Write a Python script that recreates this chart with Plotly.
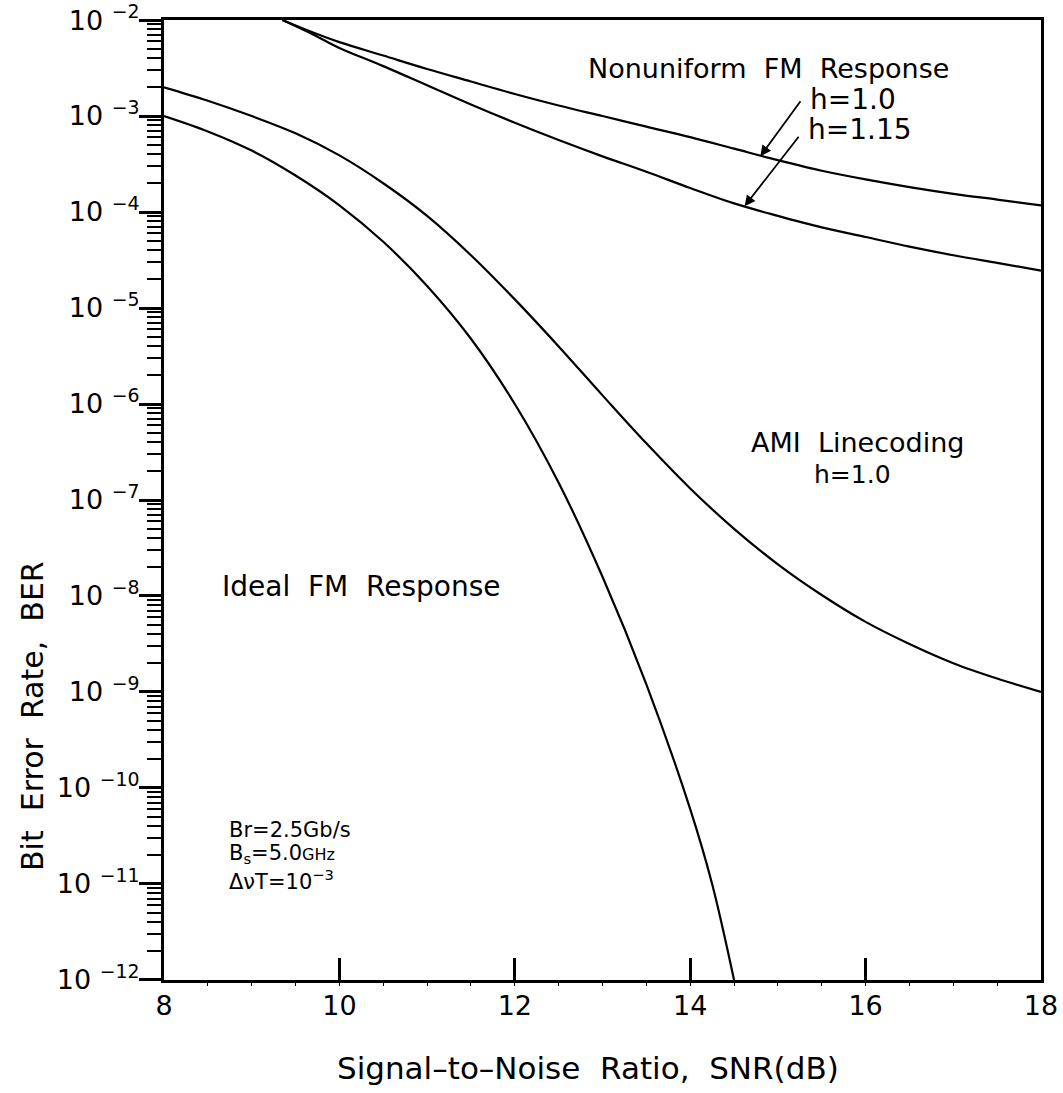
import numpy as np
import plotly.graph_objects as go

# SNR (dB) and log10(BER) for each curve
snr_ideal = [8.0, 8.5, 9.0, 9.5, 10.0, 10.5, 11.0, 11.5, 12.0, 12.5, 13.0, 13.5, 14.0, 14.25, 14.5]
logber_ideal = [-3.0, -3.16, -3.36, -3.62, -3.93, -4.31, -4.77, -5.32, -6.0, -6.82, -7.80, -8.92, -10.22, -11.0, -12.0]

snr_ami = [8.0, 8.5, 9.0, 9.5, 10.0, 10.5, 11.0, 11.5, 12.0, 12.5, 13.0, 13.5, 14.0, 14.5, 15.0, 15.5, 16.0, 16.5, 17.0, 17.5, 18.0]
logber_ami = [-2.70, -2.84, -3.00, -3.18, -3.41, -3.70, -4.04, -4.45, -4.91, -5.40, -5.91, -6.41, -6.88, -7.30, -7.67, -7.99, -8.27, -8.50, -8.70, -8.86, -9.0]

snr_h100 = [9.35, 9.7, 10.0, 10.5, 11.0, 11.5, 12.0, 12.5, 13.0, 13.5, 14.0, 14.5, 15.0, 15.5, 16.0, 16.5, 17.0, 17.5, 18.0]
logber_h100 = [-2.0, -2.13, -2.23, -2.37, -2.51, -2.64, -2.77, -2.89, -3.00, -3.11, -3.22, -3.34, -3.46, -3.57, -3.66, -3.74, -3.81, -3.87, -3.93]

snr_h115 = [9.35, 9.7, 10.0, 10.5, 11.0, 11.5, 12.0, 12.5, 13.0, 13.5, 14.0, 14.5, 15.0, 15.5, 16.0, 16.5, 17.0, 17.5, 18.0]
logber_h115 = [-2.0, -2.15, -2.29, -2.48, -2.68, -2.88, -3.07, -3.25, -3.42, -3.58, -3.75, -3.91, -4.04, -4.16, -4.26, -4.36, -4.45, -4.53, -4.61]

x_ticks = [8, 10, 12, 14, 16, 18]
y_exponents = [-2, -3, -4, -5, -6, -7, -8, -9, -10, -11, -12]

FONT = "DejaVu Sans"
fig = go.Figure()

for xs, ls in [(snr_ideal, logber_ideal), (snr_ami, logber_ami),
               (snr_h100, logber_h100), (snr_h115, logber_h115)]:
    fig.add_trace(go.Scatter(
        x=xs, y=np.power(10.0, ls), mode="lines",
        line=dict(color="black", width=2.2, shape="spline", smoothing=1.0),
        showlegend=False, hoverinfo="skip"))

minor_vals = [m * 10.0 ** k for k in range(-12, -2) for m in range(2, 10)]

fig.update_layout(
    width=1063, height=1093,
    margin=dict(l=164, r=22, t=20, b=113, autoexpand=False),
    paper_bgcolor="white", plot_bgcolor="white",
    font=dict(family=FONT, color="black", size=24),
    xaxis=dict(
        range=[8, 18], tickvals=x_ticks, ticktext=[str(v) for v in x_ticks],
        ticks="inside", ticklen=22, tickwidth=2.5, tickcolor="black",
        showline=True, linewidth=3, linecolor="black", mirror=True,
        showgrid=False, zeroline=False, automargin=False,
        tickfont=dict(family=FONT, size=27),
        minor=dict(ticks="outside", ticklen=3, tickwidth=1, dtick=0.5, tickcolor="black"),
    ),
    yaxis=dict(
        type="log", range=[-12.0005, -1.9995],
        tickvals=[10.0 ** e for e in y_exponents],
        ticktext=["10 <sup>\u2212%d</sup>" % (-e) for e in y_exponents],
        ticks="outside", ticklen=22, tickwidth=2.5, tickcolor="black",
        showline=True, linewidth=3, linecolor="black", mirror=True,
        showgrid=False, zeroline=False, automargin=False,
        tickfont=dict(family=FONT, size=27),
        ticklabelstandoff=-6,
        ticklabeloverflow="allow",
        minor=dict(ticks="outside", ticklen=14, tickwidth=2, tickvals=minor_vals, tickcolor="black"),
    ),
)

def label(x, y, text, size=24, xanchor="center"):
    fig.add_annotation(x=x, y=y, xref="x", yref="y", text=text, showarrow=False,
                       xanchor=xanchor, yanchor="middle",
                       font=dict(family=FONT, size=size, color="black"))

label(14.89, -2.50, "Nonuniform\u00a0\u00a0FM\u00a0\u00a0Response", size=27)
label(15.34, -2.83, "h=1.0", size=28, xanchor="left")
label(15.32, -3.14, "h=1.15", size=28, xanchor="left")
label(15.91, -6.40, "AMI\u00a0\u00a0Linecoding", size=27)
label(15.85, -6.73, "h=1.0", size=25)
label(10.25, -7.90, "Ideal\u00a0\u00a0FM\u00a0\u00a0Response", size=28)
label(8.72, -10.44, "Br=2.5Gb/s", size=21, xanchor="left")
label(8.72, -10.69, "B<sub>s</sub>=5.0<span style='font-size:16px'>GHz</span>", size=21, xanchor="left")
label(8.72, -10.96, "\u0394\u03bdT=10<sup>\u22123</sup>", size=21, xanchor="left")

# arrows pointing at the two nonuniform curves
for (tx, ty), (hx, hy) in [((15.27, -2.83), (14.80, -3.42)), ((15.25, -3.20), (14.62, -3.94))]:
    fig.add_annotation(x=hx, y=hy, ax=tx, ay=ty, xref="x", yref="y", axref="x", ayref="y",
                       text="", showarrow=True, arrowhead=2, arrowsize=1.2,
                       arrowwidth=1.8, arrowcolor="black")

# axis titles
fig.add_annotation(x=-0.1505, y=0.275, xref="paper", yref="paper", showarrow=False,
                   xanchor="center", yanchor="middle",
                   text="Bit\u00a0\u00a0Error\u00a0\u00a0Rate,\u00a0\u00a0BER", textangle=-90,
                   font=dict(family=FONT, size=30, color="black"))
fig.add_annotation(x=0.4835, y=-0.0914, xref="paper", yref="paper", showarrow=False,
                   xanchor="center", yanchor="middle",
                   text="Signal\u2013to\u2013Noise\u00a0\u00a0Ratio,\u00a0\u00a0SNR(dB)",
                   font=dict(family=FONT, size=31, color="black"))

fig.write_html("out.html")
